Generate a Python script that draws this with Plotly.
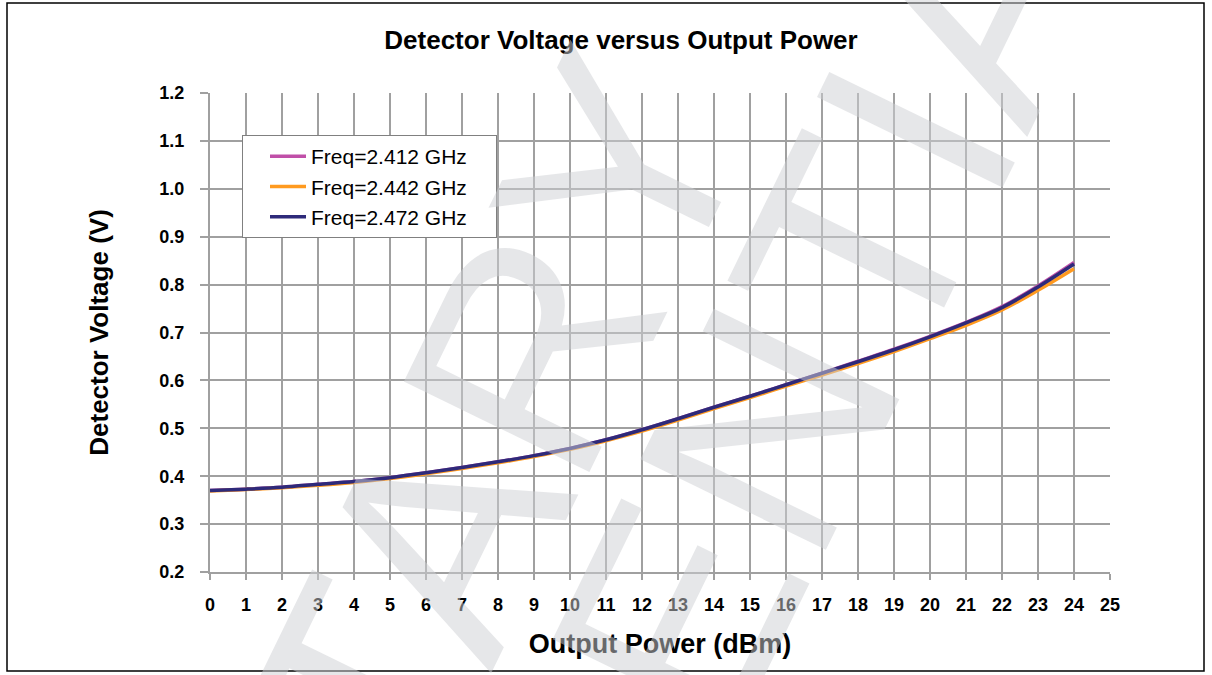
import plotly.graph_objects as go

power_dbm = list(range(0, 25))
v_2412 = [0.370, 0.373, 0.377, 0.383, 0.389, 0.397, 0.407, 0.418, 0.430, 0.443, 0.458, 0.476, 0.497,
          0.520, 0.544, 0.567, 0.591, 0.615, 0.640, 0.665, 0.692, 0.721, 0.754, 0.797, 0.846]
v_2442 = [0.369, 0.372, 0.376, 0.381, 0.387, 0.395, 0.405, 0.416, 0.428, 0.441, 0.456, 0.474, 0.494,
          0.517, 0.541, 0.564, 0.588, 0.611, 0.635, 0.660, 0.687, 0.715, 0.747, 0.788, 0.833]
v_2472 = [0.370, 0.373, 0.377, 0.383, 0.389, 0.397, 0.407, 0.418, 0.430, 0.443, 0.458, 0.476, 0.497,
          0.520, 0.544, 0.567, 0.591, 0.615, 0.639, 0.664, 0.691, 0.720, 0.752, 0.795, 0.843]
series_names = ["Freq=2.412 GHz", "Freq=2.442 GHz", "Freq=2.472 GHz"]
series_colors = ["#c04fa8", "#ff9a1f", "#2e2a7a"]
x_ticks = list(range(0, 26))
y_ticks = [0.2, 0.3, 0.4, 0.5, 0.6, 0.7, 0.8, 0.9, 1.0, 1.1, 1.2]

FONT = "Liberation Sans, Arial, sans-serif"
W, H = 1212, 675
L, R, T, B = 210, 102, 93, 103
pw, ph = W - L - R, H - T - B


def px_x(p):
    return (p - L) / pw


def px_y(p):
    return (H - B - p) / ph


fig = go.Figure()
for name, vals, col in zip(series_names, [v_2412, v_2442, v_2472], series_colors):
    fig.add_trace(go.Scatter(x=power_dbm, y=vals, mode="lines", name=name + "\u00a0\u00a0\u00a0\u00a0",
                             line=dict(color=col, width=3.5, shape="spline"),
                             legendgroup=name))

axis_common = dict(showgrid=True, gridcolor="#a0a0a0", gridwidth=1.5,
                   showline=True, linecolor="#a0a0a0", linewidth=2,
                   ticks="outside", tickcolor="#a0a0a0", tickwidth=1.5,
                   zeroline=False,
                   tickfont=dict(family=FONT, size=18, color="black", weight="bold"))

fig.update_xaxes(range=[0, 25], tickvals=x_ticks, ticklen=6, ticklabelstandoff=9,
                 title=dict(text="<b>Output Power (dBm)</b>", font=dict(family=FONT, size=27, color="black"),
                            standoff=21),
                 **axis_common)
fig.update_yaxes(range=[0.2, 1.2], tickvals=y_ticks, ticktext=[f"{v:.1f}" for v in y_ticks],
                 ticklen=8, ticklabelstandoff=12,
                 title=dict(text="<b>Detector Voltage (V)</b>", font=dict(family=FONT, size=26, color="black"),
                            standoff=43),
                 **axis_common)

# outer frame
fig.add_shape(type="rect", xref="paper", yref="paper",
              x0=px_x(7), x1=px_x(1204), y0=px_y(671), y1=px_y(3),
              line=dict(color="black", width=1.5), layer="above")

# watermark
wm_font = dict(family=FONT, size=300, color="rgba(205,207,211,0.5)")
fig.add_annotation(text="PROPRIETARY", xref="paper", yref="paper",
                   x=px_x(200), y=px_y(1033), xanchor="center", yanchor="middle",
                   showarrow=False, textangle=-64, font=wm_font)
fig.add_annotation(text="CONFIDENTIAL", xref="paper", yref="paper",
                   x=px_x(612), y=px_y(751), xanchor="center", yanchor="middle",
                   showarrow=False, textangle=-64, font=wm_font)

fig.update_layout(
    width=W, height=H,
    margin=dict(l=L, r=R, t=T, b=B),
    paper_bgcolor="white", plot_bgcolor="white",
    title=dict(text="<b>Detector Voltage versus Output Power</b>", xref="paper", x=px_x(621),
               xanchor="center", yref="container", y=1 - 40 / H, yanchor="middle",
               font=dict(family=FONT, size=26, color="black")),
    legend=dict(x=px_x(242), y=px_y(135), xanchor="left", yanchor="top",
                bgcolor="white", bordercolor="#808080", borderwidth=1,
                font=dict(family=FONT, size=21, color="black"),
                tracegroupgap=0, itemwidth=36, indentation=22),
    showlegend=True,
)

fig.write_html("out.html", config={"displayModeBar": False},
               post_script="document.body.style.margin='0';document.body.style.padding='0';")
